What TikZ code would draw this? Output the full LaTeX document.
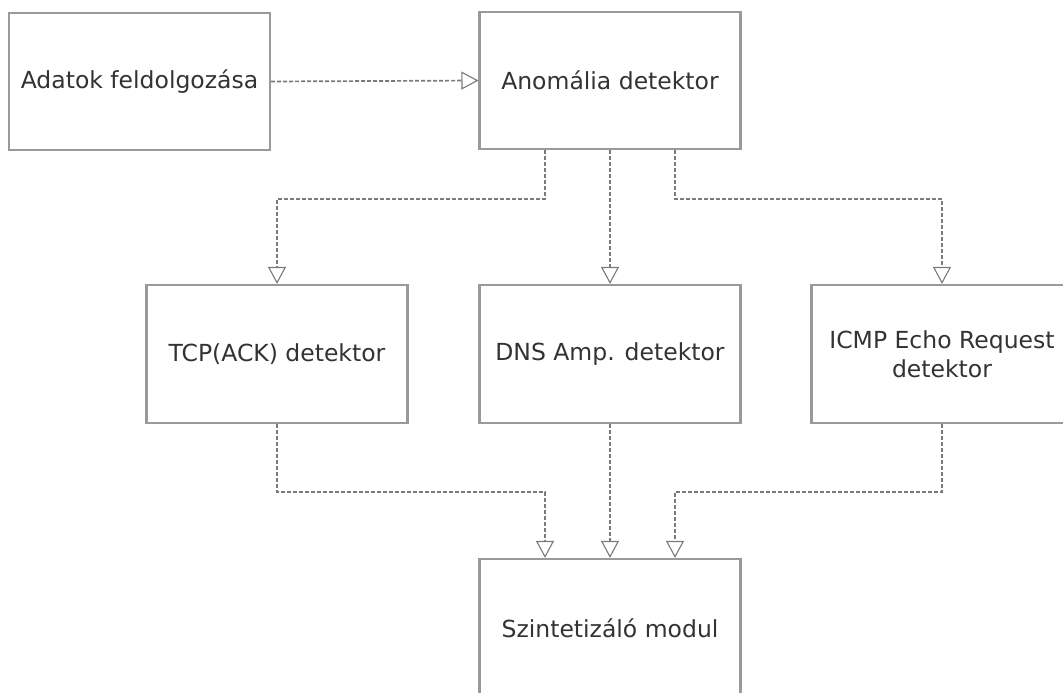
\documentclass[tikz,border=0pt]{standalone}
\usepackage{fontspec}
\setmainfont{DejaVu Sans}
\usetikzlibrary{arrows.meta,positioning}
\definecolor{boxline}{HTML}{9A9A9A}
\definecolor{flowline}{HTML}{7A7A7A}
\definecolor{labeltext}{HTML}{333333}
\begin{document}
\begin{tikzpicture}[x=1pt,y=-1pt,
  block/.style={draw=boxline, line width=2.2pt, fill=white,
    minimum width=261pt, minimum height=137pt, inner sep=0pt,
    text=labeltext, align=center,
    font=\fontsize{23.5}{29}\selectfont},
  flow/.style={draw=flowline, line width=1.7pt, dash pattern=on 4pt off 2pt,
    -{Triangle[width=18pt,length=17pt,fill=white,line width=1.1pt,sep=0pt]}},
]
\useasboundingbox (0,0) rectangle (1063,693);

\node[block] (prep) at (139.5,81.5) {Adatok feldolgozása};
\node[block] (anom) at (610,80.5) {Anomália detektor};
\node[block, minimum height=138pt] (tcp) at (277,354) {TCP(ACK) detektor};
\node[block, minimum height=138pt] (dns) at (610,354) {DNS Amp. detektor};
\node[block, minimum height=138pt] (icmp) at (942,354) {ICMP Echo Request\\detektor};
\node[block, minimum height=138pt] (synth) at (610,628) {Szintetizáló modul};

% input to the anomaly detector
\draw[flow] (prep.east) -- (anom.west);

% fan-out to the three detectors
\draw[flow] ([xshift=-65pt]anom.south) -- ++(0,49) -| (tcp.north);
\draw[flow] (anom.south) -- (dns.north);
\draw[flow] ([xshift=65pt]anom.south) -- ++(0,49) -| (icmp.north);

% fan-in to the synthesis module
\draw[flow] (tcp.south) -- ++(0,68) -| ([xshift=-65pt]synth.north);
\draw[flow] (dns.south) -- (synth.north);
\draw[flow] (icmp.south) -- ++(0,68) -| ([xshift=65pt]synth.north);
\end{tikzpicture}
\end{document}
